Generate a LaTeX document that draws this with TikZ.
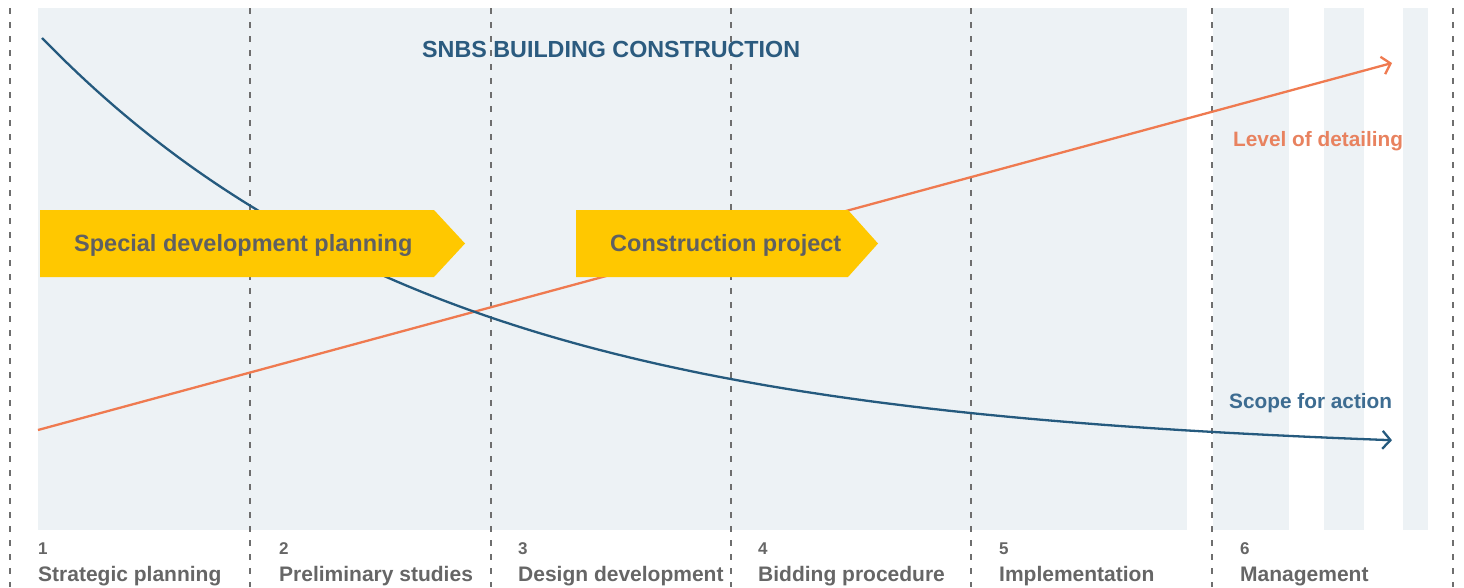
\documentclass[tikz,border=0pt]{standalone}
\usepackage{fontspec}
\setmainfont{Liberation Sans}
\usetikzlibrary{arrows.meta}
\definecolor{panel}{HTML}{EDF2F5}
\definecolor{gridc}{HTML}{6E6E6E}
\definecolor{bluec}{HTML}{255A7E}
\definecolor{orangec}{HTML}{EF7A50}
\definecolor{yellowc}{HTML}{FFC800}
\definecolor{titlec}{HTML}{2B5B7F}
\definecolor{levelc}{HTML}{E8825F}
\definecolor{scopec}{HTML}{3D6C91}
\definecolor{boxtext}{HTML}{5F6062}
\definecolor{labc}{HTML}{666666}
\tikzset{
  gridline/.style={draw=gridc, line width=1.3pt, dash pattern=on 6pt off 8pt},
  curveline/.style={line width=2.3pt, -{Straight Barb[length=8pt,width=18pt,line width=2.3pt]}},
  phasebox/.style={fill=yellowc},
  boxlabel/.style={anchor=base west, inner sep=0pt, font=\bfseries\fontsize{23.5}{26}\selectfont, text=boxtext},
  phasenum/.style={anchor=base west, inner sep=0pt, font=\bfseries\fontsize{17}{19}\selectfont, text=labc},
  phasename/.style={anchor=base west, inner sep=0pt, font=\bfseries\fontsize{21}{24}\selectfont, text=labc},
  curvelabel/.style={anchor=base west, inner sep=0pt, font=\bfseries\fontsize{20.8}{24}\selectfont}
}
\begin{document}
\begin{tikzpicture}[x=1pt,y=-1pt]
\useasboundingbox (0,0) rectangle (1464,587);
% background panels
\fill[panel] (38,8) rectangle (1187,530);
\fill[panel] (1213,8) rectangle (1289,530);
\fill[panel] (1324,8) rectangle (1364,530);
\fill[panel] (1403,8) rectangle (1428,530);
% dashed phase separators
\foreach \x in {10,250,491,731,971,1212,1453}
  \draw[gridline] (\x,8) -- (\x,587);
% title
\node[anchor=base west, inner sep=0pt, font=\bfseries\fontsize{23.3}{26}\selectfont, text=titlec] (title) at (422,57) {SNBS BUILDING CONSTRUCTION};
% curves
\coordinate (o1) at (38,430);
\coordinate (o2) at (1392,63);
\draw[curveline, draw=orangec, orangec] (o1) -- (o2);
\draw[curveline, draw=bluec, bluec] plot[domain=42:1392, samples=150] (\x,{455-417*exp(-0.002479*(\x-42))});
% curve labels
\node[curvelabel, text=levelc] (level) at (1233,146) {Level of detailing};
\node[curvelabel, text=scopec] (scope) at (1229,408) {Scope for action};
% yellow phase arrows
\fill[phasebox] (40,210) -- (434,210) -- (465,243.5) -- (434,277) -- (40,277) -- cycle;
\node[boxlabel] (sdp) at (74,251) {Special development planning};
\fill[phasebox] (576,210) -- (848,210) -- (878,243.5) -- (848,277) -- (576,277) -- cycle;
\node[boxlabel] (cp) at (610,251) {Construction project};
% phase labels
\node[phasenum] (n1) at (38,554) {1};
\node[phasename] (p1) at (38,581) {Strategic planning};
\node[phasenum] (n2) at (279,554) {2};
\node[phasename] (p2) at (279,581) {Preliminary studies};
\node[phasenum] (n3) at (518,554) {3};
\node[phasename] (p3) at (518,581) {Design development};
\node[phasenum] (n4) at (758,554) {4};
\node[phasename] (p4) at (758,581) {Bidding procedure};
\node[phasenum] (n5) at (999,554) {5};
\node[phasename] (p5) at (999,581) {Implementation};
\node[phasenum] (n6) at (1240,554) {6};
\node[phasename] (p6) at (1240,581) {Management};
\end{tikzpicture}
\end{document}
